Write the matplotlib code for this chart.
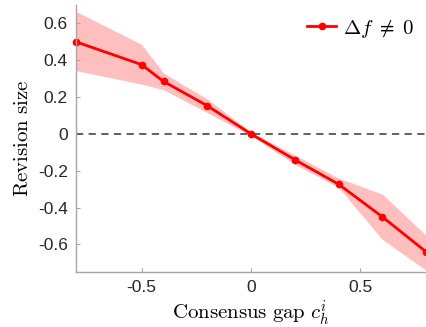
import numpy as np
import matplotlib
matplotlib.use("Agg")
import matplotlib.pyplot as plt

plt.rcParams["mathtext.fontset"] = "cm"

# consensus gap bins and revision size estimates
gap = [-0.8, -0.5, -0.4, -0.2, 0.0, 0.2, 0.4, 0.6, 0.8]
rev = [0.50, 0.376, 0.285, 0.153, 0.0, -0.14, -0.273, -0.45, -0.64]
rev_hi = [0.665, 0.486, 0.33, 0.19, 0.01, -0.115, -0.24, -0.327, -0.55]
rev_lo = [0.344, 0.27, 0.24, 0.115, -0.01, -0.165, -0.29, -0.573, -0.74]

yticks = [-0.6, -0.4, -0.2, 0, 0.2, 0.4, 0.6]
ylabels = ["-0.6", "-0.4", "-0.2", "0", "0.2", "0.4", "0.6"]
xticks = [-0.5, 0, 0.5]
xlabels = ["-0.5", "0", "0.5"]

fig = plt.figure(figsize=(4.26, 3.27), dpi=100)
ax = fig.add_axes([76 / 426, 1 - 272 / 327, 350 / 426, 267 / 327])

ax.fill_between(gap, rev_lo, rev_hi, color="#ffbfbf", linewidth=0)
ax.axhline(0, color="#555555", linestyle=(0, (4, 3)), linewidth=1.3)
ax.plot(gap, rev, color="#ff0000", linewidth=2, marker="o", markersize=4.5,
        label=r"$\Delta f\;\neq\;0$", clip_on=False)

ax.set_xlim(-0.8, 0.8)
ax.set_ylim(-0.75, 0.7)
ax.set_xticks(xticks)
ax.set_xticklabels(xlabels)
ax.set_yticks(yticks)
ax.set_yticklabels(ylabels)

for s in ["top", "right"]:
    ax.spines[s].set_visible(False)
for s in ["left", "bottom"]:
    ax.spines[s].set_color("#a6a6a6")
    ax.spines[s].set_linewidth(1)
ax.tick_params(direction="in", length=3, color="#a6a6a6", labelcolor="#262626",
               labelsize=12.5, pad=6)
for lab in ax.get_xticklabels() + ax.get_yticklabels():
    lab.set_family("Liberation Sans")

ax.set_xlabel(r"$\mathrm{Consensus\ gap}\ c_h^i$", fontsize=15, labelpad=2)
ax.set_ylabel(r"$\mathrm{Revision\ size}$", fontsize=15, labelpad=4)

ax.legend(loc="upper right", frameon=False, fontsize=15, handlelength=1.4,
          handletextpad=0.3, borderaxespad=0.2)

fig.savefig("out.png", dpi=100)
